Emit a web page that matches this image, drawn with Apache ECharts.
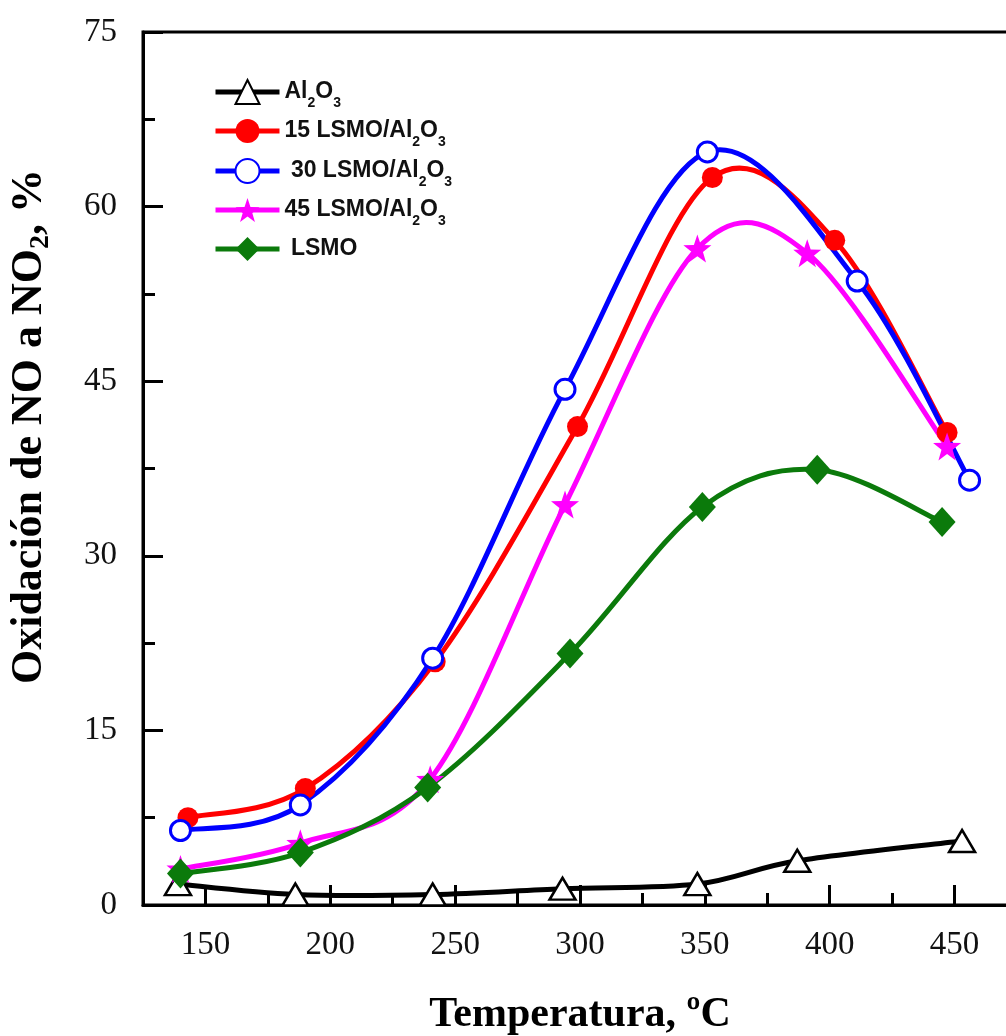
<!DOCTYPE html>
<html>
<head>
<meta charset="utf-8">
<script src="https://cdn.jsdelivr.net/npm/echarts@6/dist/echarts.min.js"></script>
<style>html,body{margin:0;padding:0;background:#fff}#c{width:1006px;height:1036px}</style>
</head>
<body>
<div id="c"></div>
<script>
// ---- data ----
var seriesNames = ['Al2O3', '15 LSMO/Al2O3', '30 LSMO/Al2O3', '45 LSMO/Al2O3', 'LSMO'];
var al2o3X = [139, 186, 241, 293, 347, 387, 453];
var al2o3Y = [1.8, 0.9, 0.9, 1.4, 1.8, 3.8, 5.5];
var lsmo15X = [143, 190, 242, 299, 353, 402, 447];
var lsmo15Y = [7.5, 10.0, 20.9, 41.1, 62.5, 57.1, 40.6];
var lsmo30X = [140, 188, 241, 294, 351, 411, 456];
var lsmo30Y = [6.4, 8.6, 21.2, 44.3, 64.7, 53.6, 36.5];
var lsmo45X = [140, 188, 240, 294, 347, 391, 447];
var lsmo45Y = [3.1, 5.3, 10.8, 34.4, 56.4, 56.0, 39.4];
var lsmoX = [140, 188, 239, 296, 349, 395, 445];
var lsmoY = [2.7, 4.5, 10.1, 21.6, 34.2, 37.4, 32.9];
var xMajorTicks = [150, 200, 250, 300, 350, 400, 450];
var xMinorTicks = [125, 175, 225, 275, 325, 375, 425, 475];

function zip(xs, ys) { return xs.map(function (x, i) { return [x, ys[i]]; }); }

var starPath = 'path://M0,-10L2.35,-3.24L9.51,-3.09L3.8,1.24L5.88,8.09L0,4L-5.88,8.09L-3.8,1.24L-9.51,-3.09L-2.35,-3.24Z';

// Catmull-Rom spline through pixel points (points come from api.coord)
function splinePath(p) {
  var d = 'M' + p[0][0] + ',' + p[0][1];
  for (var i = 0; i < p.length - 1; i++) {
    var p0 = p[i - 1] || p[i], p1 = p[i], p2 = p[i + 1], p3 = p[i + 2] || p[i + 1];
    var c1x = p1[0] + (p2[0] - p0[0]) / 6, c1y = p1[1] + (p2[1] - p0[1]) / 6;
    var c2x = p2[0] - (p3[0] - p1[0]) / 6, c2y = p2[1] - (p3[1] - p1[1]) / 6;
    d += 'C' + c1x + ',' + c1y + ',' + c2x + ',' + c2y + ',' + p2[0] + ',' + p2[1];
  }
  return d;
}

function curveSeries(id, xs, ys, color) {
  return {
    id: id, name: id, type: 'custom', coordinateSystem: 'cartesian2d',
    xAxisIndex: 0, yAxisIndex: 0, silent: true,
    data: zip(xs, ys),
    renderItem: function (params, api) {
      if (params.dataIndex !== 0) return null;
      var pts = xs.map(function (x, i) { return api.coord([x, ys[i]]); });
      return {
        type: 'path',
        shape: {pathData: splinePath(pts)},
        style: {stroke: color, lineWidth: 5, fill: null, lineJoin: 'round', lineCap: 'round'}
      };
    }
  };
}

function markSeries(name, xs, ys, color, symbol, size, itemStyle) {
  return {
    name: name, type: 'line', xAxisIndex: 0,
    data: zip(xs, ys),
    lineStyle: {color: color, width: 5, opacity: 0},
    symbol: symbol, symbolSize: size,
    itemStyle: itemStyle
  };
}

function legendFmt(name) {
  var lead = (name.indexOf('30') === 0 || name === 'LSMO') ? ' ' : '';
  if (name.indexOf('Al2O3') >= 0) {
    var pre = name.replace('Al2O3', '');
    return '{n|' + lead + pre + 'Al}{s|2}{n|O}{s|3}';
  }
  return '{n|' + lead + name + '}';
}

var serifBold = {fontFamily: 'Liberation Serif', fontWeight: 'bold', color: '#000'};

var chart = echarts.init(document.getElementById('c'), null, {renderer: 'canvas'});

var option = {
  animation: false,
  backgroundColor: '#fff',
  grid: {
    left: 143, top: 32, width: 874, height: 873,
    show: true, borderColor: '#000', borderWidth: 3,
    containLabel: false, outerBoundsMode: 'none'
  },
  legend: {
    orient: 'vertical', left: 208, top: 74,
    itemWidth: 64, itemHeight: 30, itemGap: 9,
    selectedMode: false,
    data: seriesNames,
    formatter: legendFmt,
    lineStyle: {width: 5, opacity: 1},
    textStyle: {
      rich: {
        n: {fontFamily: 'Liberation Sans', fontWeight: 'bold', fontSize: 23, color: '#111', lineHeight: 34, verticalAlign: 'middle'},
        s: {fontFamily: 'Liberation Sans', fontWeight: 'bold', fontSize: 14, color: '#111', lineHeight: 36, verticalAlign: 'bottom'}
      }
    }
  },
  xAxis: [{
    type: 'value', min: 125, max: 475, position: 'bottom',
    axisLine: {show: true, lineStyle: {color: '#000', width: 3}},
    axisTick: {show: true, inside: true, length: 20, lineStyle: {color: '#000', width: 3}, customValues: xMajorTicks},
    axisLabel: {customValues: xMajorTicks, fontFamily: 'Liberation Serif', fontSize: 33, color: '#111', margin: 24},
    splitLine: {show: false},
    name: 'Temperatura, ºC', nameLocation: 'middle', nameGap: 89,
    nameTextStyle: Object.assign({fontSize: 42}, serifBold)
  }, {
    type: 'value', min: 125, max: 475, position: 'bottom',
    axisLine: {show: false},
    axisTick: {show: true, inside: true, length: 12, lineStyle: {color: '#000', width: 3}, customValues: xMinorTicks},
    axisLabel: {show: false},
    splitLine: {show: false}
  }],
  yAxis: {
    type: 'value', min: 0, max: 75, interval: 15,
    axisLine: {show: true, lineStyle: {color: '#000', width: 3}},
    axisTick: {show: true, inside: true, length: 20, lineStyle: {color: '#000', width: 3}},
    minorTick: {show: true, splitNumber: 2, length: 12, lineStyle: {color: '#000', width: 3}},
    axisLabel: {fontFamily: 'Liberation Serif', fontSize: 33, color: '#111', margin: 26},
    splitLine: {show: false},
    minorSplitLine: {show: false},
    name: '{n|Oxidación de NO a NO}{s|2}{n|, %}',
    nameLocation: 'middle', nameGap: 88,
    nameTextStyle: {
      padding: [0, 0, 0, 84],
      rich: {
        n: Object.assign({fontSize: 44, lineHeight: 50, verticalAlign: 'middle'}, serifBold),
        s: Object.assign({fontSize: 28, lineHeight: 50, verticalAlign: 'bottom'}, serifBold)
      }
    }
  },
  series: [
    curveSeries('c0', al2o3X, al2o3Y, '#000'),
    markSeries(seriesNames[0], al2o3X, al2o3Y, '#000', 'triangle', [26, 22], {color: '#fff', borderColor: '#000', borderWidth: 2.5}),
    curveSeries('c1', lsmo15X, lsmo15Y, '#ff0000'),
    markSeries(seriesNames[1], lsmo15X, lsmo15Y, '#ff0000', 'circle', 21, {color: '#ff0000', borderWidth: 0}),
    curveSeries('c2', lsmo30X, lsmo30Y, '#0000ff'),
    markSeries(seriesNames[2], lsmo30X, lsmo30Y, '#0000ff', 'circle', 20, {color: '#fff', borderColor: '#0000ff', borderWidth: 3}),
    curveSeries('c3', lsmo45X, lsmo45Y, '#ff00ff'),
    markSeries(seriesNames[3], lsmo45X, lsmo45Y, '#ff00ff', starPath, 28, {color: '#ff00ff', borderWidth: 0}),
    curveSeries('c4', lsmoX, lsmoY, '#0b7a0b'),
    markSeries(seriesNames[4], lsmoX, lsmoY, '#0b7a0b', 'diamond', [27, 30], {color: '#0b7a0b', borderWidth: 0})
  ]
};
chart.setOption(option);
</script>
</body>
</html>
